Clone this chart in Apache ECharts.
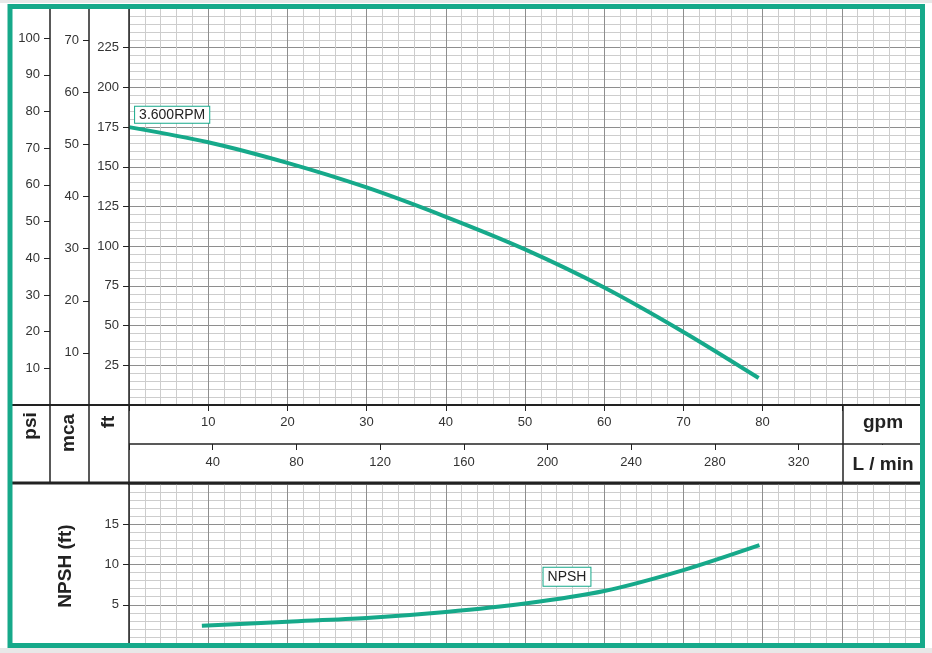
<!DOCTYPE html>
<html>
<head>
<meta charset="utf-8">
<script src="https://cdn.jsdelivr.net/npm/echarts@6/dist/echarts.min.js"></script>
<style>
  html, body { margin: 0; padding: 0; background: #fff; }
  #chart { width: 932px; height: 653px; }
</style>
</head>
<body>
<div id="chart"></div>
<script>
// head curve (ft vs gpm)
const headGpm = [0, 10, 20, 30, 40, 50, 60, 70, 79.5];
const headFt = [175, 165.5, 152.5, 137, 118.5, 98, 74, 46, 17];
// NPSH curve (ft vs gpm)
const npshGpm = [9.2, 20, 30, 40, 50, 60, 70, 79.6];
const npshFt = [2.4, 2.9, 3.35, 4.1, 5.15, 6.7, 9.3, 12.4];

// tick labels
const psiTicks = [10, 20, 30, 40, 50, 60, 70, 80, 90, 100];
const mcaTicks = [10, 20, 30, 40, 50, 60, 70];
const ftTicks = [25, 50, 75, 100, 125, 150, 175, 200, 225];
const gpmTicks = [10, 20, 30, 40, 50, 60, 70, 80];
const lpmTicks = [40, 80, 120, 160, 200, 240, 280, 320];
const npshTicks = [5, 10, 15];

const FT_MAX = 250;
const GPM_MAX = 100;
const FT_PER_PSI = 2.31;
const FT_PER_M = 3.281;
const LPM_PER_GPM = 3.785;

const green = '#16a98a';
const font = 'Liberation Sans, Arial, sans-serif';
const labelStyle = { color: '#333', fontSize: 13, fontFamily: font };
const majorLine = { color: '#8e8e8e', width: 1 };
const minorLine = { color: '#cdcdcd', width: 1 };
const tickStyle = { show: true, length: 6, lineStyle: { color: '#222' } };
const noLine = { show: false, onZero: false };

function leftAxis(max, interval, ticks, offset, grid) {
  return {
    type: 'value', gridIndex: grid, position: 'left', offset: offset,
    min: 0, max: max, interval: interval,
    axisLine: noLine,
    axisTick: tickStyle,
    axisLabel: Object.assign({ margin: 10, customValues: ticks }, labelStyle),
    splitLine: { show: false },
  };
}

function gridXAxis(grid) {
  return {
    type: 'value', gridIndex: grid, min: 0, max: GPM_MAX, interval: 10,
    axisLine: noLine,
    axisTick: { show: false },
    axisLabel: { show: false },
    minorTick: { show: false, splitNumber: 5 },
    splitLine: { show: true, lineStyle: majorLine },
    minorSplitLine: { show: true, lineStyle: minorLine },
  };
}

const chart = echarts.init(document.getElementById('chart'));

const gpmAxis = gridXAxis(0);
gpmAxis.position = 'bottom';
gpmAxis.axisTick = tickStyle;
gpmAxis.axisLabel = Object.assign({ show: true, margin: 11, customValues: gpmTicks }, labelStyle);

const ftAxis = leftAxis(FT_MAX, 25, ftTicks, 0, 0);
ftAxis.minorTick = { show: false, splitNumber: 5 };
ftAxis.splitLine = { show: true, lineStyle: majorLine };
ftAxis.minorSplitLine = { show: true, lineStyle: minorLine };

const npshAxis = leftAxis(20, 5, npshTicks, 0, 1);
npshAxis.minorTick = { show: false, splitNumber: 5 };
npshAxis.splitLine = { show: true, lineStyle: majorLine };
npshAxis.minorSplitLine = { show: true, lineStyle: minorLine };

function boxLabel(text, pad) {
  return {
    show: true, position: 'inside', formatter: text,
    color: '#222', fontSize: 14, fontFamily: font,
    backgroundColor: '#fff', borderColor: green, borderWidth: 1, padding: pad,
  };
}

function hLine(x1, x2, y, w) {
  return { type: 'line', z: 50, shape: { x1: x1, y1: y, x2: x2, y2: y }, style: { stroke: '#222', lineWidth: w } };
}
function vLine(x, y1, y2, w) {
  return { type: 'line', z: 50, shape: { x1: x, y1: y1, x2: x, y2: y2 }, style: { stroke: '#222', lineWidth: w } };
}
function vText(text, x, y) {
  return {
    type: 'text', z: 60, x: x, y: y, rotation: Math.PI / 2,
    style: { text: text, fill: '#222', font: 'bold 19px ' + font, align: 'center', verticalAlign: 'middle' },
  };
}
function hText(text, x, y) {
  return {
    type: 'text', z: 60, x: x, y: y,
    style: { text: text, fill: '#222', font: 'bold 19px ' + font, align: 'center', verticalAlign: 'middle' },
  };
}

chart.setOption({
  backgroundColor: '#fff',
  animation: false,
  grid: [
    { left: 129, top: 8, width: 792, height: 397 },
    { left: 129, top: 484, width: 792, height: 161 },
  ],
  xAxis: [
    gpmAxis,
    {
      type: 'value', gridIndex: 0, position: 'bottom', offset: 39,
      min: 0, max: GPM_MAX * LPM_PER_GPM, interval: 40,
      axisLine: noLine,
      axisTick: tickStyle,
      axisLabel: Object.assign({ margin: 12, customValues: lpmTicks }, labelStyle),
      splitLine: { show: false },
    },
    gridXAxis(1),
  ],
  yAxis: [
    ftAxis,
    leftAxis(FT_MAX / FT_PER_PSI, 10, psiTicks, 79, 0),
    leftAxis(FT_MAX / FT_PER_M, 10, mcaTicks, 40, 0),
    npshAxis,
  ],
  series: [
    {
      type: 'line', xAxisIndex: 0, yAxisIndex: 0,
      data: headGpm.map((g, i) => [g, headFt[i]]),
      smooth: 0.3, showSymbol: false, z: 10,
      lineStyle: { color: green, width: 4 },
      markPoint: {
        symbol: 'rect', symbolSize: 1, itemStyle: { color: 'rgba(0,0,0,0)' },
        data: [{ coord: [5.45, 182.7], label: boxLabel('3.600RPM', [1, 4]) }],
      },
    },
    {
      type: 'line', xAxisIndex: 2, yAxisIndex: 3,
      data: npshGpm.map((g, i) => [g, npshFt[i]]),
      smooth: 0.3, showSymbol: false, z: 10,
      lineStyle: { color: green, width: 4 },
      markPoint: {
        symbol: 'rect', symbolSize: 1, itemStyle: { color: 'rgba(0,0,0,0)' },
        data: [{ coord: [55.3, 8.47], label: boxLabel('NPSH', [2, 4]) }],
      },
    },
  ],
  graphic: [
    // blank the L/min cell so the 360 tick does not show there
    { type: 'rect', z: 40, shape: { x: 844, y: 445, width: 77, height: 37 }, style: { fill: '#fff' } },
    // blank the NPSH max tick just under the band
    { type: 'rect', z: 40, shape: { x: 115, y: 482, width: 13, height: 5 }, style: { fill: '#fff' } },
    // table frame
    hLine(12, 921, 405, 2),
    hLine(129, 921, 444, 1.5),
    hLine(12, 921, 483, 3),
    vLine(50, 8, 483, 1.5),
    vLine(89, 8, 483, 1.5),
    vLine(129, 8, 645, 1.5),
    vLine(843, 405, 483, 1.5),
    // header texts
    vText('psi', 31, 426),
    vText('mca', 69, 433),
    vText('ft', 109, 422),
    hText('gpm', 883, 423),
    hText('L / min', 883, 465),
    vText('NPSH (ft)', 66, 566),
    // outer strips and green border
    { type: 'rect', z: 70, shape: { x: 0, y: 0, width: 932, height: 3 }, style: { fill: '#e8e8e8' } },
    { type: 'rect', z: 70, shape: { x: 0, y: 648, width: 932, height: 5 }, style: { fill: '#e8e8e8' } },
    { type: 'rect', z: 80, shape: { x: 10, y: 6.5, width: 912.5, height: 639 }, style: { fill: 'none', stroke: green, lineWidth: 5 } },
  ],
});
</script>
</body>
</html>
